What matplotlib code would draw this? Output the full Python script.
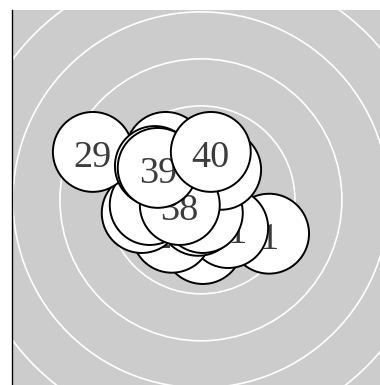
import numpy as np
import matplotlib
matplotlib.use("Agg")
import matplotlib.pyplot as plt
from matplotlib.patches import Circle

# Node labels and positions (grid units, ring spacing = 1), drawn bottom to top
labels = ["23", "1", "21", "26", "4", "7", "5", "3", "37", "36", "29", "33", "38", "39", "40"]
node_x = [0.04, 1.45, 0.58, -0.62, -1.26, -1.09, -0.06, 0.04, 0.43, -0.75, -2.30, -0.98, -0.45, -0.92, 0.21]
node_y = [-0.94, -0.72, -0.60, -0.70, -0.28, -0.11, -0.34, -0.28, 0.64, 1.02, 1.02, 0.72, -0.11, 0.68, 1.02]
ring_radii = [1, 2, 3, 4, 5, 6, 7, 8]

node_r = 0.85

fig = plt.figure(figsize=(3.8, 3.85), dpi=100)
ax = fig.add_axes([12 / 380, 0, 368 / 380, 375 / 385])
ax.set_facecolor("#cccccc")

# Concentric background rings
for r in ring_radii:
    ax.add_patch(Circle((0, 0), r, fill=False, edgecolor="white", linewidth=1.2, zorder=1))

# Nodes with their labels, each label stacked with its own circle
for i, (lab, x, y) in enumerate(zip(labels, node_x, node_y)):
    z = 2 + i * 2
    ax.add_patch(Circle((x, y), node_r, facecolor="white", edgecolor="black",
                        linewidth=1.4, zorder=z))
    ax.text(x, y - 0.32, lab, ha="center", va="baseline", fontsize=27.5,
            family="Liberation Serif", color="#3c3c3c", zorder=z + 1)

ax.set_xlim(-4.02, 3.81)
ax.set_ylim(-3.94, 4.04)
ax.set_aspect("equal")
ax.set_xticks([])
ax.set_yticks([])
for side in ["top", "right", "bottom"]:
    ax.spines[side].set_visible(False)
ax.spines["left"].set_linewidth(1.0)

fig.savefig("out.png", dpi=100)
